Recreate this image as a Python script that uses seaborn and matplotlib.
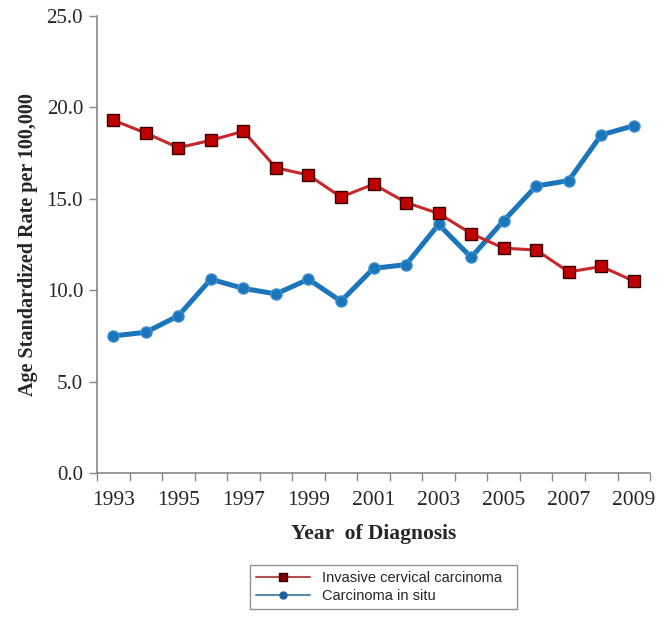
import numpy as np
import pandas as pd
import matplotlib
matplotlib.use("Agg")
import matplotlib.pyplot as plt
from matplotlib.lines import Line2D
import seaborn as sns

years = list(range(1993, 2010))
invasive = [19.3, 18.6, 17.8, 18.2, 18.7, 16.7, 16.3, 15.1, 15.8, 14.8,
            14.2, 13.1, 12.3, 12.2, 11.0, 11.3, 10.5]
in_situ = [7.5, 7.7, 8.6, 10.6, 10.1, 9.8, 10.6, 9.4, 11.2, 11.4,
           13.6, 11.8, 13.8, 15.7, 16.0, 18.5, 19.0]
series_names = ["Invasive cervical carcinoma", "Carcinoma in situ"]
year_labels = [str(y) for y in years[::2]]

red = "#C00000"
blue = "#1B75BB"

sns.set_style("white")
plt.rcParams["font.family"] = ["Liberation Serif", "DejaVu Serif"]

fig = plt.figure(figsize=(6.62, 6.18), dpi=100)
ax = fig.add_axes([0.1465, 0.2346, 0.8355, 0.7394])

df_inv = pd.DataFrame({"year": years, "rate": invasive})
df_cis = pd.DataFrame({"year": years, "rate": in_situ})

sns.lineplot(data=df_inv, x="year", y="rate", ax=ax, color="#C8282A",
             linewidth=2.2, marker="s", markersize=9, markerfacecolor=red,
             markeredgecolor="#3a0000", markeredgewidth=1.0, zorder=3)
sns.lineplot(data=df_cis, x="year", y="rate", ax=ax, color=blue,
             linewidth=3.6, marker="o", markersize=8, markerfacecolor=blue,
             markeredgecolor="#3f8fcf", markeredgewidth=1.0, zorder=2)

ax.set_xlim(1992.5, 2009.5)
ax.set_ylim(0, 25)
ax.set_yticks(np.arange(0, 25.1, 5))
ax.set_yticklabels([f"{v:.1f}" for v in np.arange(0, 25.1, 5)], fontsize=15)
ax.set_xticks(years[::2])
ax.set_xticklabels(year_labels, fontsize=15.5)
ax.set_xticks(np.arange(1992.5, 2010, 1), minor=True)
ax.tick_params(axis="x", which="major", length=0, pad=13)
ax.tick_params(axis="x", which="minor", length=6, width=1, color="#888888",
               direction="out", bottom=True)
ax.tick_params(axis="y", which="major", length=6, width=1, color="#888888",
               direction="out", left=True, pad=4)

for s in ["top", "right"]:
    ax.spines[s].set_visible(False)
for s in ["left", "bottom"]:
    ax.spines[s].set_color("#888888")
    ax.spines[s].set_linewidth(1.2)

ax.set_xlabel("Year  of Diagnosis", fontsize=15.5, fontweight="bold", labelpad=10)
ax.set_ylabel("Age Standardized Rate per 100,000", fontsize=14.5,
              fontweight="bold", labelpad=6)

handles = [
    Line2D([], [], color="#b05050", lw=1.5, marker="s", markersize=6,
           markerfacecolor="#800000", markeredgecolor="#300000"),
    Line2D([], [], color="#5a88b0", lw=1.5, marker="o", markersize=5,
           markerfacecolor="#1f5f9f", markeredgecolor="#1f5f9f"),
]
leg = fig.legend(handles, series_names, loc="lower left",
                 bbox_to_anchor=(0.378, 0.0146, 0.403, 0.079), mode="expand",
                 frameon=True, fancybox=False, handlelength=3.7,
                 prop={"family": "Liberation Sans", "size": 10.5},
                 borderaxespad=0, labelspacing=0.3)
leg.get_frame().set_edgecolor("#777777")
leg.get_frame().set_linewidth(1.0)

fig.savefig("out.png", dpi=100)
